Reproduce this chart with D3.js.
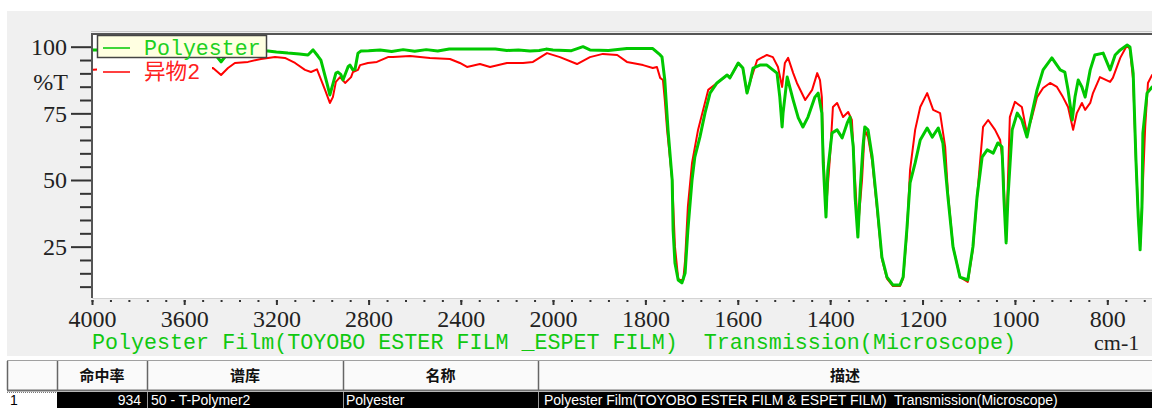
<!DOCTYPE html>
<html>
<head>
<meta charset="utf-8">
<script src="https://cdn.jsdelivr.net/npm/d3@7"></script>
<style>
  body { margin: 0; background: #fff; }
  svg { display: block; }
</style>
</head>
<body>
<svg id="chart" width="1152" height="408"></svg>
<script>
// spectrum data: wavenumber (cm-1) / %T
var polyesterWn = [4000,3900,3800,3700,3600,3500,3460,3440,3420,3380,3300,3237,3200,3150,3100,3063,3041,3020,3007,2981,
  2968,2955,2942,2933,2920,2911,2889,2881,2868,2859,2846,2833,2800,2750,2700,2650,2600,2550,2500,2450,
  2400,2350,2300,2250,2200,2150,2100,2060,2030,2000,1960,1935,1920,1880,1840,1800,1784,1768,1764,1758,
  1751,1742,1740,1736,1729,1721,1714,1708,1699,1693,1682,1671,1660,1645,1623,1617,1599,1589,1580,1574,
  1567,1552,1537,1524,1515,1509,1504,1502,1493,1480,1469,1459,1448,1433,1426,1418,1415,1409,1405,1396,
  1385,1374,1363,1357,1350,1346,1340,1335,1329,1325,1318,1309,1299,1288,1277,1264,1249,1242,1234,1227,
  1216,1205,1190,1179,1166,1156,1145,1134,1119,1102,1091,1082,1071,1060,1047,1037,1028,1024,1019,1015,
  1006,995,985,974,963,952,939,920,902,892,885,876,870,863,855,848,837,827,809,794,
  783,772,757,751,744,738,733,729,725,723,714,703,680];
var polyesterT = [98.8,98.8,98.6,98.8,98.5,98.2,96.5,94.3,96.5,98.4,98.4,98.4,98.0,97.6,97.3,96.9,98.8,96.5,95.0,86.4,
  81.9,86.0,90.1,90.5,89.5,87.5,92.5,93.1,91.3,91.5,97.6,98.4,98.5,98.8,98.2,98.9,98.3,98.9,98.4,99.1,
  99.1,99.1,99.1,99.1,98.6,98.8,98.4,98.6,99.1,98.8,98.5,100.0,98.8,98.6,99.3,99.3,99.3,96.9,96.1,87.5,
  68.8,50.0,31.3,18.9,12.5,11.4,15.1,31.3,50.0,58.6,66.1,75.1,82.6,86.4,89.4,88.3,93.9,92.0,82.6,86.4,
  92.0,93.1,93.1,91.3,90.1,81.1,69.9,75.1,88.6,80.0,73.3,69.9,73.6,81.1,82.6,75.1,56.4,36.1,53.8,67.6,
  68.8,65.8,71.4,73.6,62.4,43.6,28.6,46.3,62.4,69.9,68.8,58.6,41.4,21.1,13.6,10.6,10.6,13.6,31.3,48.9,
  56.4,65.0,69.5,66.1,69.5,63.9,43.6,24.9,13.6,12.5,24.9,43.6,58.6,61.3,60.1,63.9,62.4,43.6,26.4,43.6,
  68.8,75.1,72.5,66.1,75.1,83.8,91.3,95.8,91.3,90.5,83.8,72.5,81.1,87.5,84.9,81.1,91.3,96.9,97.6,91.3,
  96.9,98.8,100.6,99.9,90.1,57.5,36.1,23.8,39.9,67.6,82.6,84.9,87.0];

var sampleWn = [4000,3960,3800,3600,3475,3440,3410,3380,3323,3267,3206,3163,3119,3076,3050,3024,2989,2968,2955,2942,
  2924,2902,2876,2868,2846,2837,2803,2764,2716,2694,2620,2534,2447,2404,2373,2317,2273,2200,2130,2087,
  2026,1985,1948,1920,1892,1861,1840,1805,1784,1775,1768,1762,1758,1753,1742,1736,1729,1725,1718,1714,
  1708,1699,1686,1675,1664,1645,1623,1617,1599,1589,1580,1574,1558,1537,1524,1513,1504,1498,1491,1480,
  1472,1454,1439,1428,1422,1418,1415,1409,1400,1394,1385,1372,1361,1353,1346,1340,1331,1325,1318,1309,
  1299,1288,1277,1264,1249,1242,1234,1227,1216,1205,1190,1177,1162,1151,1145,1134,1119,1102,1091,1080,
  1069,1058,1043,1032,1026,1019,1011,1000,985,974,963,952,939,924,909,896,885,874,866,855,
  848,837,831,816,794,788,772,757,751,744,738,733,729,725,718,712,703,680];
var sampleT = [91.3,91.5,91.5,91.3,92.0,89.4,92.0,93.9,94.3,95.4,96.1,95.8,93.9,91.3,90.5,91.5,83.8,78.9,81.1,86.8,
  88.6,86.4,88.6,90.5,91.3,93.1,93.9,94.3,96.1,96.1,96.5,95.8,95.4,93.9,92.4,93.5,92.4,93.9,93.9,94.3,
  97.6,96.1,93.5,96.1,97.3,96.9,94.3,93.1,92.0,92.4,88.3,87.5,80.0,68.8,50.0,25.0,13.0,12.5,12.5,20.0,
  40.0,56.4,68.8,76.3,83.8,86.4,89.4,88.3,93.9,92.0,82.6,86.4,95.0,96.9,96.1,92.4,84.9,93.9,95.8,90.1,
  86.4,80.0,83.8,90.1,87.5,81.1,60.0,38.8,59.5,77.4,78.9,73.6,75.5,72.5,50.0,31.3,50.0,68.8,66.1,57.0,
  40.0,20.5,13.0,10.2,10.2,13.0,30.0,53.8,68.8,77.4,82.6,76.3,75.1,62.4,45.0,25.0,13.6,11.8,24.0,47.5,
  69.9,72.5,68.8,65.0,56.0,27.5,73.6,79.3,77.4,67.6,73.6,81.1,84.5,86.4,84.9,81.1,77.4,68.8,75.1,78.9,
  76.3,78.9,82.6,88.6,86.8,88.3,95.8,100.6,99.1,87.5,57.0,37.0,25.0,40.0,69.9,86.4,89.4,90.0];

var xMajor = [4000,3600,3200,2800,2400,2000,1800,1600,1400,1200,1000,800];
var yMajor = [100,75,50,25];
var yMinor = [10,15,20,30,35,40,45,55,60,65,70,80,85,90,95];
var seriesNames = ["Polyester", "异物2"];
var seriesColors = ["#00c800", "#ff0000"];
var caption = "Polyester Film(TOYOBO ESTER FILM _ESPET FILM)  Transmission(Microscope)";
var tableHeads = ["", "命中率", "谱库", "名称", "描述"];
var tableRow = ["1", "934", "50 - T-Polymer2", "Polyester",
  "Polyester Film(TOYOBO ESTER FILM & ESPET FILM)  Transmission(Microscope)"];

var svg = d3.select("#chart");
var serif = "'Liberation Serif', 'DejaVu Serif', serif";
var mono = "'Liberation Mono', 'DejaVu Sans Mono', 'Noto Sans CJK SC', monospace";

var plotL = 92, plotT = 34, plotB = 298;

// two-part wavenumber axis, 2000 cm-1 is the break
var x = d3.scaleLinear().domain([4000, 2000, 650]).range([plotL, 553, 1176.6]);
var y = d3.scaleLinear().domain([0, 100]).range([313.3, 46.7]);

svg.append("rect").attr("width", 1152).attr("height", 408).attr("fill", "#fff");
svg.append("rect").attr("x", 7).attr("y", 11).attr("width", 1145).attr("height", 345).attr("fill", "#f0f0f0");

// plot area
svg.append("rect").attr("x", plotL).attr("y", plotT).attr("width", 1100).attr("height", plotB - plotT)
  .attr("fill", "#fff");
svg.append("defs").append("clipPath").attr("id", "plotClip")
  .append("rect").attr("x", plotL + 1).attr("y", plotT + 1).attr("width", 1100).attr("height", plotB - plotT - 1);

var line = d3.line()
  .x(function (d) { return x(d[0]); })
  .y(function (d) { return y(d[1]); });

var sample = sampleWn.map(function (w, i) { return [w, sampleT[i]]; });
var polyester = polyesterWn.map(function (w, i) { return [w, polyesterT[i]]; });

var curves = svg.append("g").attr("clip-path", "url(#plotClip)");
curves.append("path").datum(sample).attr("d", line)
  .attr("fill", "none").attr("stroke", seriesColors[1]).attr("stroke-width", 2).attr("stroke-linejoin", "round");
curves.append("path").datum(polyester).attr("d", line)
  .attr("fill", "none").attr("stroke", seriesColors[0]).attr("stroke-width", 3).attr("stroke-linejoin", "round");

// frame
svg.append("line").attr("x1", plotL - 1).attr("x2", 1152).attr("y1", plotT - 2.5).attr("y2", plotT - 2.5)
  .attr("stroke", "#c8c8c8").attr("stroke-width", 1);
svg.append("line").attr("x1", plotL - 1).attr("x2", 1152).attr("y1", plotT).attr("y2", plotT)
  .attr("stroke", "#555").attr("stroke-width", 2);
svg.append("line").attr("x1", plotL).attr("x2", plotL).attr("y1", plotT).attr("y2", plotB)
  .attr("stroke", "#555").attr("stroke-width", 2);
svg.append("line").attr("x1", plotL).attr("x2", 1152).attr("y1", plotB + 0.5).attr("y2", plotB + 0.5)
  .attr("stroke", "#d4d4d4").attr("stroke-width", 1);

// y axis
var yMinorAxis = svg.append("g").attr("transform", "translate(" + (plotL - 1) + ",0)")
  .call(d3.axisLeft(y).tickValues(yMinor).tickSize(11).tickFormat(""));
var yAxis = svg.append("g").attr("transform", "translate(" + (plotL - 1) + ",0)")
  .call(d3.axisLeft(y).tickValues(yMajor).tickSize(20).tickPadding(4));
[yMinorAxis, yAxis].forEach(function (g) {
  g.select(".domain").remove();
  g.selectAll(".tick line").attr("stroke", "#333").attr("stroke-width", 2);
});
yAxis.selectAll("text").attr("font-family", serif).attr("font-size", 24).attr("fill", "#222");
svg.append("text").attr("x", 68).attr("y", 90).attr("text-anchor", "end")
  .attr("font-family", serif).attr("font-size", 24).attr("fill", "#222").text("%T");

// x axis
var xMinor = d3.range(4000, 2000, -80).concat(d3.range(2000, 660, -40));
var xMinorAxis = svg.append("g").attr("transform", "translate(0," + (plotB + 2) + ")")
  .call(d3.axisBottom(x).tickValues(xMinor).tickSize(2).tickFormat(""));
var xAxis = svg.append("g").attr("transform", "translate(0," + (plotB + 2) + ")")
  .call(d3.axisBottom(x).tickValues(xMajor).tickSize(5).tickPadding(5).tickFormat(d3.format("d")));
[xMinorAxis, xAxis].forEach(function (g) {
  g.select(".domain").remove();
  g.selectAll(".tick line").attr("stroke", "#333").attr("stroke-width", 2);
});
xAxis.selectAll("text").attr("font-family", serif).attr("font-size", 24).attr("fill", "#222");

svg.append("text").attr("x", plotL).attr("y", 349).style("white-space", "pre")
  .attr("font-family", mono).attr("font-size", 21.7).attr("fill", "#10c810").text(caption);
svg.append("text").attr("x", 1094).attr("y", 350)
  .attr("font-family", serif).attr("font-size", 22).attr("fill", "#222").text("cm-1");

// legend
svg.append("rect").attr("x", 97).attr("y", 58).attr("width", 115).attr("height", 26).attr("fill", "#fff");
svg.append("rect").attr("x", 97.5).attr("y", 35.5).attr("width", 169).attr("height", 22)
  .attr("fill", "#ffffe1").attr("stroke", "#444").attr("stroke-width", 1.5);
var legend = svg.selectAll(".legendItem").data(seriesNames).enter().append("g")
  .attr("class", "legendItem")
  .attr("transform", function (d, i) { return "translate(0," + (48 + i * 24) + ")"; });
legend.append("line").attr("x1", 103).attr("x2", 130)
  .attr("stroke", function (d, i) { return seriesColors[i]; }).attr("stroke-width", 1.5);
legend.append("text").attr("x", 144).attr("y", 7)
  .attr("font-family", mono).attr("font-size", 21.6)
  .attr("fill", function (d, i) { return i === 0 ? "#20d020" : "#ff2020"; })
  .text(function (d) { return d; });

// result table
var colEdges = [7, 57, 147, 343, 538, 1152];
var headY = 361, headH = 29, rowY = 392;
svg.append("rect").attr("x", 7).attr("y", 356).attr("width", 1145).attr("height", 52).attr("fill", "#fff");
svg.append("rect").attr("x", 7).attr("y", headY).attr("width", 1145).attr("height", headH)
  .attr("fill", "#fafafa");
svg.append("line").attr("x1", 7).attr("x2", 1152).attr("y1", headY - 0.5).attr("y2", headY - 0.5)
  .attr("stroke", "#a0a0a0");
svg.append("line").attr("x1", 7).attr("x2", 1152).attr("y1", headY + headH + 0.5).attr("y2", headY + headH + 0.5)
  .attr("stroke", "#707070").attr("stroke-width", 2);
svg.append("rect").attr("x", 57).attr("y", rowY).attr("width", 1095).attr("height", 16).attr("fill", "#000");
svg.append("line").attr("x1", 7).attr("x2", 57).attr("y1", rowY + 0.5).attr("y2", rowY + 0.5)
  .attr("stroke", "#777").attr("stroke-dasharray", "1,1");

colEdges.slice(0, 5).forEach(function (cx, i) {
  svg.append("line").attr("x1", cx + 0.5).attr("x2", cx + 0.5).attr("y1", headY).attr("y2", headY + headH)
    .attr("stroke", "#666").attr("stroke-width", 1.5);
  if (i > 1) {
    svg.append("line").attr("x1", cx + 0.5).attr("x2", cx + 0.5).attr("y1", rowY).attr("y2", 408)
      .attr("stroke", "#9a9a9a").attr("stroke-width", 1);
  }
});

tableHeads.forEach(function (h, i) {
  svg.append("text").attr("x", (colEdges[i] + colEdges[i + 1]) / 2).attr("y", headY + 20)
    .attr("text-anchor", "middle").attr("font-family", "'Noto Sans CJK SC', sans-serif")
    .attr("font-weight", "bold").attr("font-size", 15).attr("fill", "#111").text(h);
});

var rowX = [10, 141, 151, 346, 544];
tableRow.forEach(function (t, i) {
  svg.append("text").attr("x", rowX[i]).attr("y", 405)
    .attr("text-anchor", i === 1 ? "end" : "start").style("white-space", "pre")
    .attr("font-family", "'Liberation Sans', Arial, sans-serif").attr("font-size", 14)
    .attr("fill", i === 0 ? "#000" : "#fff").text(t);
});
</script>
</body>
</html>
